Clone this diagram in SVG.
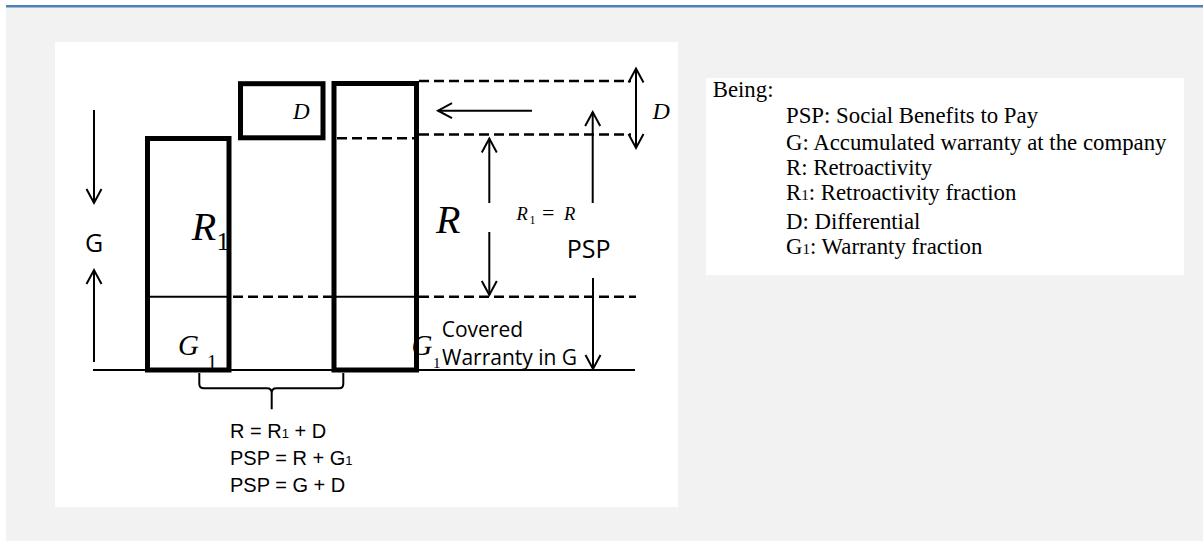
<svg xmlns="http://www.w3.org/2000/svg" width="1203" height="541" viewBox="0 0 1203 541">
<style>
.thick{fill:none;stroke:#000;stroke-width:5;stroke-linejoin:miter}
.thin{fill:none;stroke:#000;stroke-width:2}
.dash{fill:none;stroke:#000;stroke-width:2.5;stroke-dasharray:10 5}
.arr{fill:none;stroke:#000;stroke-width:2;marker-end:url(#ah)}
.serif{font-family:"Liberation Serif","Times New Roman",serif;fill:#000}
.it{font-style:italic}
.sans{font-family:"Open Sans","Liberation Sans",sans-serif;fill:#000}
.arial{font-family:"Liberation Sans",Arial,sans-serif;fill:#000}
</style>
<defs>
<marker id="ah" markerUnits="userSpaceOnUse" markerWidth="20" markerHeight="20" refX="0" refY="0" viewBox="-16 -10 20 20" orient="auto-start-reverse">
<path d="M-14,-7.5 L0,0 L-14,7.5" fill="none" stroke="#000" stroke-width="2"/>
</marker>
</defs>
<rect x="0" y="0" width="1203" height="541" fill="#ffffff"/>
<rect x="6" y="5" width="1197" height="536" fill="#f2f2f2"/>
<rect x="6" y="5" width="1197" height="2.5" fill="#4f81bd"/>

<g id="panel-left">
<rect x="55" y="42" width="623" height="465" fill="#ffffff"/>
</g>

<g id="connectors">
<!-- base line -->
<line class="thin" x1="93" y1="370" x2="635" y2="370"/>
<!-- level lines -->
<line class="thin" x1="150" y1="296.7" x2="227" y2="296.7"/>
<line class="dash" x1="233" y1="296.7" x2="332" y2="296.7"/>
<line class="thin" x1="336" y1="296.7" x2="414" y2="296.7"/>
<line class="dash" x1="419" y1="296.7" x2="636" y2="296.7"/>
<line class="dash" x1="337" y1="138.3" x2="414" y2="138.3"/>
<line class="dash" x1="419" y1="134.5" x2="631" y2="134.5"/>
<line class="dash" x1="419" y1="81" x2="631" y2="81"/>
<!-- arrows -->
<line class="arr" x1="94" y1="110" x2="94" y2="203"/>
<line class="arr" x1="94" y1="362" x2="94" y2="270"/>
<line class="arr" x1="532" y1="110.7" x2="438" y2="110.7"/>
<line class="arr" x1="489.3" y1="203" x2="489.3" y2="138.5"/>
<line class="arr" x1="489.3" y1="232" x2="489.3" y2="295"/>
<line class="arr" x1="592.7" y1="203" x2="592.7" y2="112"/>
<line class="arr" x1="593" y1="278" x2="593" y2="369"/>
<line class="arr" x1="636" y1="68.5" x2="636" y2="148" style="marker-start:url(#ah)"/>
<!-- brace -->
<path class="thin" d="M199.3,373 V384 Q199.3,388.3 204,388.3 H267 Q271.7,388.3 271.7,393 V409.3 M271.7,393 Q271.7,388.3 276.4,388.3 H339 Q343.3,388.3 343.3,384 V373"/>
</g>

<g id="node-r1g1">
<rect class="thick" x="147.5" y="138.5" width="81.5" height="231.5"/>
<text class="serif it" x="191.7" y="240" font-size="40">R</text>
<text class="serif" x="216.5" y="250" font-size="26">1</text>
<text class="serif it" x="178" y="355" font-size="29">G</text>
<text class="serif" x="207" y="369" font-size="20">1</text>
</g>

<g id="node-d">
<rect class="thick" x="240.5" y="83.7" width="82.5" height="54.1"/>
<text class="serif it" x="293" y="119" font-size="23">D</text>
</g>

<g id="node-r">
<rect class="thick" x="334" y="83.5" width="82.5" height="286.5"/>
<text class="serif it" x="436" y="233" font-size="40">R</text>
<text class="serif it" x="411.5" y="355" font-size="29">G</text>
<text class="serif" x="433" y="368" font-size="15">1</text>
</g>

<g id="labels">
<text class="sans" x="94" y="251.7" font-size="25" text-anchor="middle">G</text>
<text class="sans" x="566.7" y="258" font-size="25">PSP</text>
<text class="serif it" x="652.5" y="119.3" font-size="24">D</text>
<text class="serif it" x="516.5" y="220" font-size="18.5">R<tspan x="529.5" font-style="normal" font-size="12" dy="4">1</tspan><tspan x="542" dy="-4" font-style="normal" font-size="22">=</tspan><tspan x="564">R</tspan></text>
<text class="sans" x="441.7" y="336.7" font-size="21">Covered</text>
<text class="sans" x="442" y="365" font-size="21">Warranty in G</text>
<text class="arial" x="230" y="438.3" font-size="20">R = R<tspan font-size="13">1</tspan> + D</text>
<text class="arial" x="230" y="465" font-size="20">PSP = R + G<tspan font-size="13">1</tspan></text>
<text class="arial" x="230" y="491.7" font-size="20">PSP = G + D</text>
</g>

<g id="legend">
<rect x="706" y="78" width="478" height="197" fill="#ffffff"/>
<text class="serif" x="712.7" y="96.7" font-size="22.8">Being:</text>
<text class="serif" x="786" y="123.3" font-size="22.8">PSP: Social Benefits to Pay</text>
<text class="serif" x="786" y="149.7" font-size="22.8">G: Accumulated warranty at the company</text>
<text class="serif" x="786" y="175" font-size="22.8">R: Retroactivity</text>
<text class="serif" x="786" y="200" font-size="22.8">R<tspan font-size="15">1</tspan>: Retroactivity fraction</text>
<text class="serif" x="786" y="229.3" font-size="22.8">D: Differential</text>
<text class="serif" x="786" y="254" font-size="22.8">G<tspan font-size="15">1</tspan>: Warranty fraction</text>
</g>
</svg>
